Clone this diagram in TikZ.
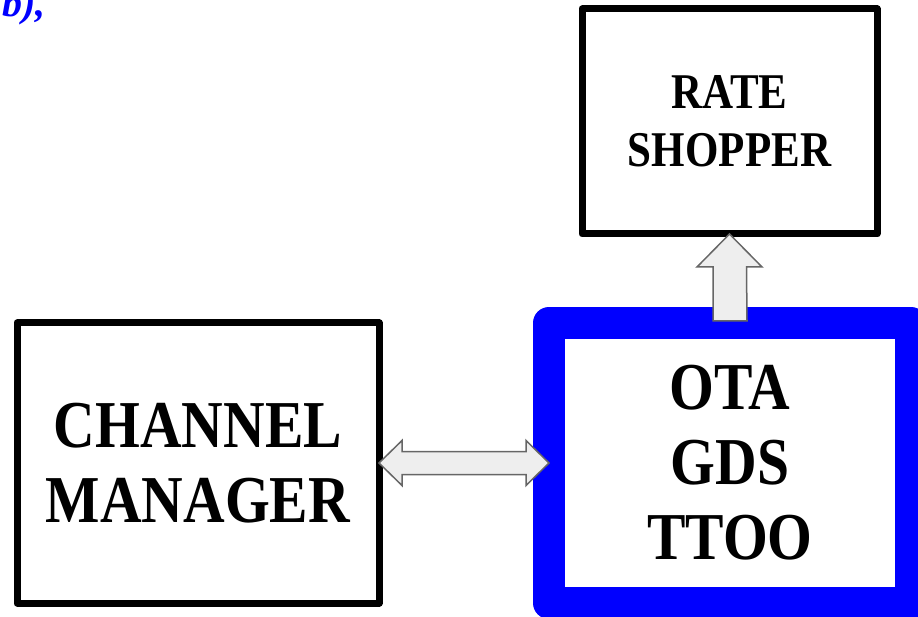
\documentclass[tikz,border=0pt]{standalone}
\usepackage{fontspec}
\setmainfont{Liberation Serif}
\newfontfamily\boxfont[FakeStretch=0.86]{Liberation Serif}
\usetikzlibrary{calc}
\definecolor{arrfill}{HTML}{EEEEEE}
\definecolor{arrdraw}{HTML}{666666}
\tikzset{
  blackbox/.style={draw=black, line width=7pt, line join=round, fill=white,
    outer sep=0pt, inner sep=0pt, align=center},
  bluebox/.style={draw=blue, line width=32pt, line join=round, fill=white,
    outer sep=0pt, inner sep=0pt, align=center},
  blockarrow/.style={draw=arrdraw, fill=arrfill, line width=1.5pt, line join=miter},
  bigtext/.style={font=\boxfont\bfseries\fontsize{67}{75}\selectfont},
  smalltext/.style={font=\boxfont\bfseries\fontsize{50}{58}\selectfont}
}
\begin{document}
\begin{tikzpicture}[x=1pt, y=-1pt]
\useasboundingbox (0,0) rectangle (918,617);
\clip (0,0) rectangle (918,617);
\node[anchor=base east, text=blue, font=\bfseries\itshape\fontsize{40}{44}\selectfont, inner sep=0pt] (frag) at (46,17) {b),};
\node[blackbox, bigtext, minimum width=362pt, minimum height=280pt] (cm) at (198,463) {CHANNEL\\MANAGER};
\node[blackbox, smalltext, minimum width=295pt, minimum height=225pt] (rs) at (729.5,121.5) {RATE\\SHOPPER};
\node[bluebox, bigtext, minimum width=362pt, minimum height=280pt] (ota) at (730,463) {OTA\\GDS\\TTOO};
% double arrow between channel manager and OTA box
\draw[blockarrow] (cm.east) -- ++(23,-22.5) -- ++(0,11) -- ($(ota.west)+(-23,-11.5)$)
  -- ++(0,-11) -- (ota.west) -- ++(-23,22.5) -- ++(0,-11)
  -- ($(cm.east)+(23,11.5)$) -- ++(0,11) -- cycle;
% single arrow from OTA box up to rate shopper
\draw[blockarrow] (rs.south) -- ++(32.5,33) -- ++(-15.5,0) -- ($(ota.north)+(17,-2)$)
  -- ++(-34,0) -- ++(0,{-(323-2-267)}) -- ++(-16,0) -- cycle;
\end{tikzpicture}
\end{document}
